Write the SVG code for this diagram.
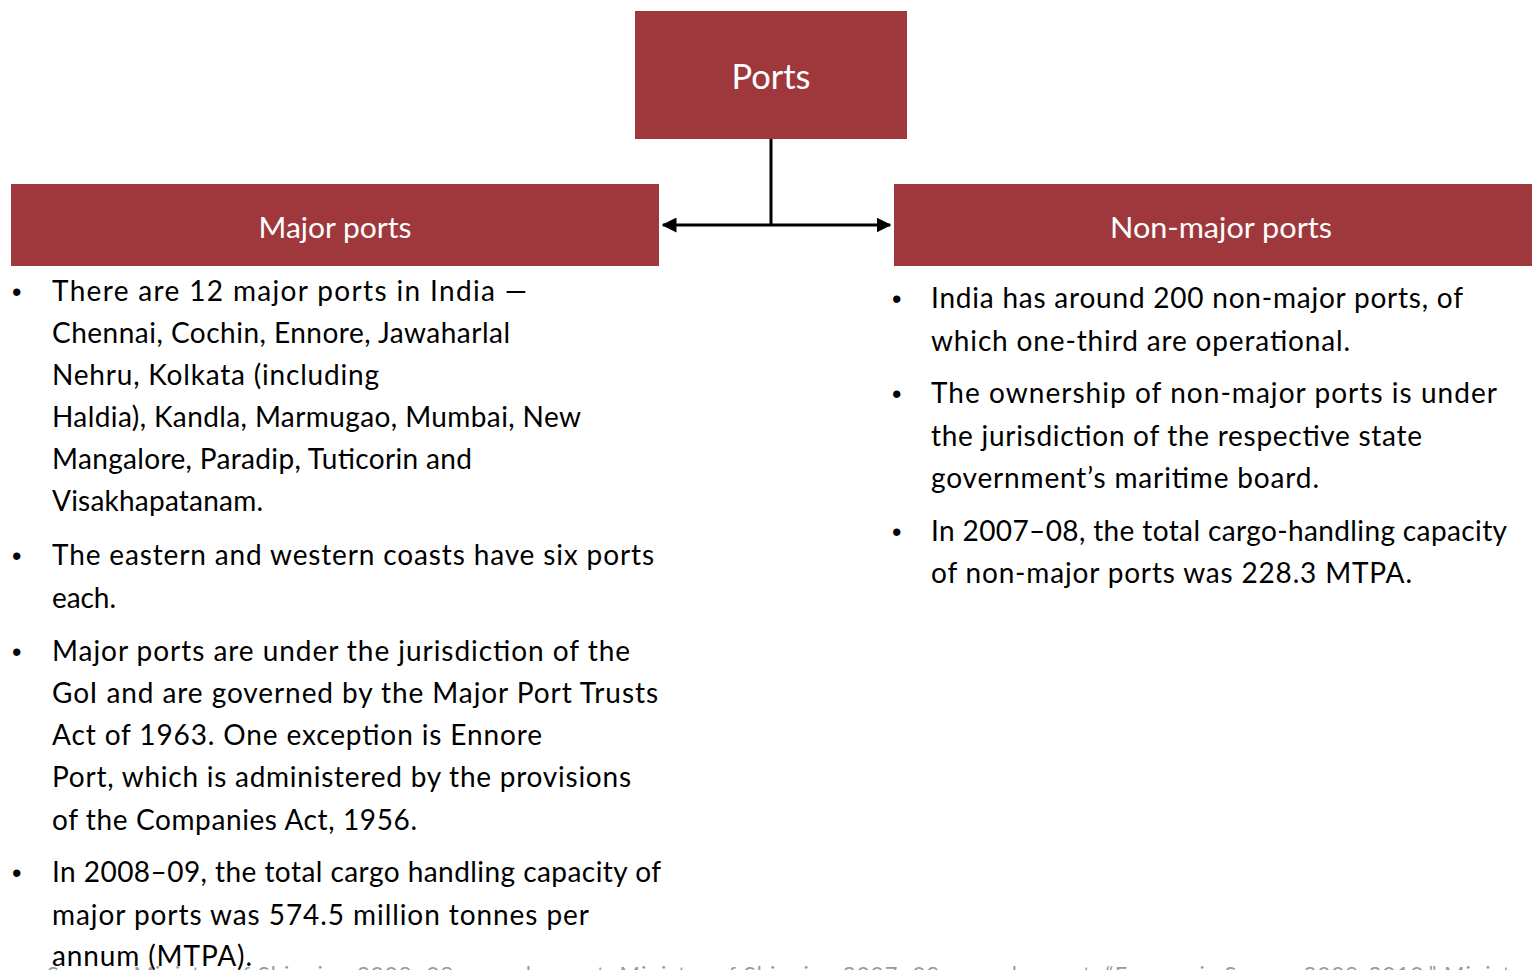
<svg xmlns="http://www.w3.org/2000/svg" width="1532" height="970" viewBox="0 0 1532 970">
<style>
.box{fill:#9E383D}
.hd{font-family:Lato,"Liberation Sans",sans-serif;fill:#fff;text-anchor:middle}
.tx{font-family:Lato,"Liberation Sans",sans-serif;font-size:28px;fill:#000}
.bl{font-family:"Liberation Sans",sans-serif;font-size:27px;fill:#000}
.src{font-family:Lato,"Liberation Sans",sans-serif;font-size:22px;fill:#9a9a9a}
.con{stroke:#000;stroke-width:3;fill:none}
</style>
<defs>
<marker id="ah" viewBox="0 0 10 10" refX="9" refY="5" markerWidth="5" markerHeight="5" orient="auto-start-reverse" markerUnits="strokeWidth">
<path d="M0,0 L10,5 L0,10 z" fill="#000"/>
</marker>
</defs>
<rect width="1532" height="970" fill="#fff"/>
<g id="connectors">
<path class="con" d="M771,139 V225"/>
<path class="con" d="M663,225 H890" marker-start="url(#ah)" marker-end="url(#ah)"/>
</g>
<g id="ports">
<rect class="box" x="635" y="11" width="272" height="128"/>
<text class="hd" x="771" y="89" font-size="34" textLength="79" lengthAdjust="spacingAndGlyphs">Ports</text>
</g>
<g id="major">
<rect class="box" x="11" y="184" width="648" height="82"/>
<text class="hd" x="335" y="238" font-size="29" textLength="153" lengthAdjust="spacingAndGlyphs">Major ports</text>
</g>
<g id="nonmajor">
<rect class="box" x="894" y="184" width="638" height="82"/>
<text class="hd" x="1221" y="238" font-size="29" textLength="222" lengthAdjust="spacingAndGlyphs">Non-major ports</text>
</g>
<g id="major-text">
<text class="bl" x="12" y="301">•</text>
<text class="tx" x="52" y="301" textLength="475" lengthAdjust="spacing">There are 12 major ports in India —</text>
<text class="tx" x="52" y="343" textLength="458" lengthAdjust="spacing">Chennai, Cochin, Ennore, Jawaharlal</text>
<text class="tx" x="52" y="385" textLength="327" lengthAdjust="spacing">Nehru, Kolkata (including</text>
<text class="tx" x="52" y="427" textLength="529" lengthAdjust="spacing">Haldia), Kandla, Marmugao, Mumbai, New</text>
<text class="tx" x="52" y="469" textLength="420" lengthAdjust="spacing">Mangalore, Paradip, Tuticorin and</text>
<text class="tx" x="52" y="511" textLength="211" lengthAdjust="spacing">Visakhapatanam.</text>
<text class="bl" x="12" y="565">•</text>
<text class="tx" x="52" y="565" textLength="602" lengthAdjust="spacing">The eastern and western coasts have six ports</text>
<text class="tx" x="52" y="608" textLength="64" lengthAdjust="spacing">each.</text>
<text class="bl" x="12" y="661">•</text>
<text class="tx" x="52" y="661" textLength="578" lengthAdjust="spacing">Major ports are under the jurisdiction of the</text>
<text class="tx" x="52" y="703" textLength="606" lengthAdjust="spacing">GoI and are governed by the Major Port Trusts</text>
<text class="tx" x="52" y="745" textLength="490" lengthAdjust="spacing">Act of 1963. One exception is Ennore</text>
<text class="tx" x="52" y="787" textLength="579" lengthAdjust="spacing">Port, which is administered by the provisions</text>
<text class="tx" x="52" y="830" textLength="365" lengthAdjust="spacing">of the Companies Act, 1956.</text>
<text class="bl" x="12" y="882">•</text>
<text class="tx" x="52" y="882" textLength="609" lengthAdjust="spacing">In 2008–09, the total cargo handling capacity of</text>
<text class="tx" x="52" y="925" textLength="537" lengthAdjust="spacing">major ports was 574.5 million tonnes per</text>
<text class="tx" x="52" y="966" textLength="200" lengthAdjust="spacing">annum (MTPA).</text>
</g>
<g id="nonmajor-text">
<text class="bl" x="892" y="308">•</text>
<text class="tx" x="931" y="308" textLength="532" lengthAdjust="spacing">India has around 200 non-major ports, of</text>
<text class="tx" x="931" y="351" textLength="419" lengthAdjust="spacing">which one-third are operational.</text>
<text class="bl" x="892" y="403">•</text>
<text class="tx" x="931" y="403" textLength="566" lengthAdjust="spacing">The ownership of non-major ports is under</text>
<text class="tx" x="931" y="446" textLength="491" lengthAdjust="spacing">the jurisdiction of the respective state</text>
<text class="tx" x="931" y="488" textLength="388" lengthAdjust="spacing">government’s maritime board.</text>
<text class="bl" x="892" y="541">•</text>
<text class="tx" x="931" y="541" textLength="576" lengthAdjust="spacing">In 2007–08, the total cargo-handling capacity</text>
<text class="tx" x="931" y="583" textLength="481" lengthAdjust="spacing">of non-major ports was 228.3 MTPA.</text>
</g>
<text class="src" x="47" y="982" textLength="1485" lengthAdjust="spacing">Source: Ministry of Shipping 2008–09 annual report; Ministry of Shipping 2007–08 annual report; “Economic Survey 2009-2010,” Ministry</text>
</svg>
